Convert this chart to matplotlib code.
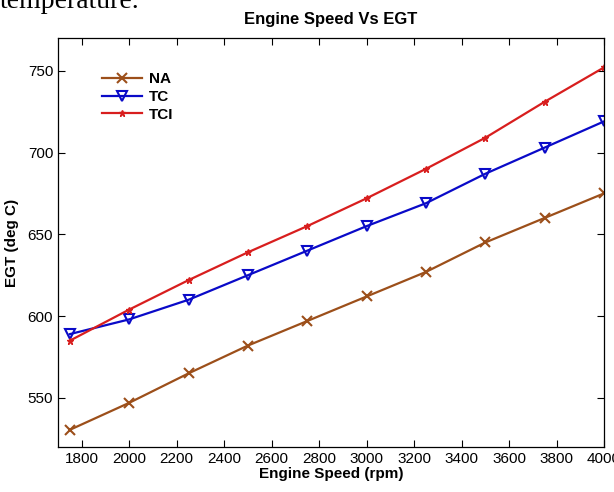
import matplotlib
matplotlib.use("Agg")
import matplotlib.pyplot as plt

speed = [1750, 2000, 2250, 2500, 2750, 3000, 3250, 3500, 3750, 4000]
egt_na = [530.5, 547, 565, 582, 597, 612, 627, 645, 660, 675]
egt_tc = [589, 598, 610, 625, 640, 655, 669, 687, 703, 719]
egt_tci = [585, 604, 622, 639, 655, 672, 690, 709, 731, 752]

x_ticks = list(range(1800, 4001, 200))
y_ticks = [550, 600, 650, 700, 750]

plt.rcParams["font.family"] = ["Liberation Sans", "DejaVu Sans"]

fig = plt.figure(figsize=(6.14, 4.92), dpi=100)
ax = fig.add_axes([0.0945, 0.0915, 0.8892, 0.8313])

ax.plot(speed, egt_na, color="#9c4f1a", marker="x", markersize=7, mew=1.5, lw=1.6, label="NA")
ax.plot(speed, egt_tc, color="#0a0ac8", marker="v", markersize=7, mfc="none", mew=1.5, lw=1.6, label="TC")
ax.plot(speed, egt_tci, color="#d81e1e", marker="*", markersize=5, lw=1.6, label="TCI")

ax.set_xlim(1700, 4000)
ax.set_ylim(520, 770)
ax.set_xticks(x_ticks)
ax.set_yticks(y_ticks)
ax.tick_params(direction="in", top=True, right=True, length=5, labelsize=11)
for s in ax.spines.values():
    s.set_linewidth(0.9)

ax.set_title("Engine Speed Vs EGT", fontsize=12, fontweight="bold", pad=10)
ax.set_xlabel("Engine Speed (rpm)", fontsize=11, fontweight="bold", labelpad=1)
ax.set_ylabel("EGT (deg C)", fontsize=11, fontweight="bold", labelpad=6)

leg = ax.legend(loc="upper left", bbox_to_anchor=(0.055, 0.95), frameon=False,
                fontsize=11, handlelength=2.6, handletextpad=0.5, labelspacing=0.25)
for t in leg.get_texts():
    t.set_fontweight("bold")

fig.text(0.0, 0.997, "temperature.", family="Liberation Serif", fontsize=20, va="center", ha="left")

fig.savefig("out.png", dpi=100)
